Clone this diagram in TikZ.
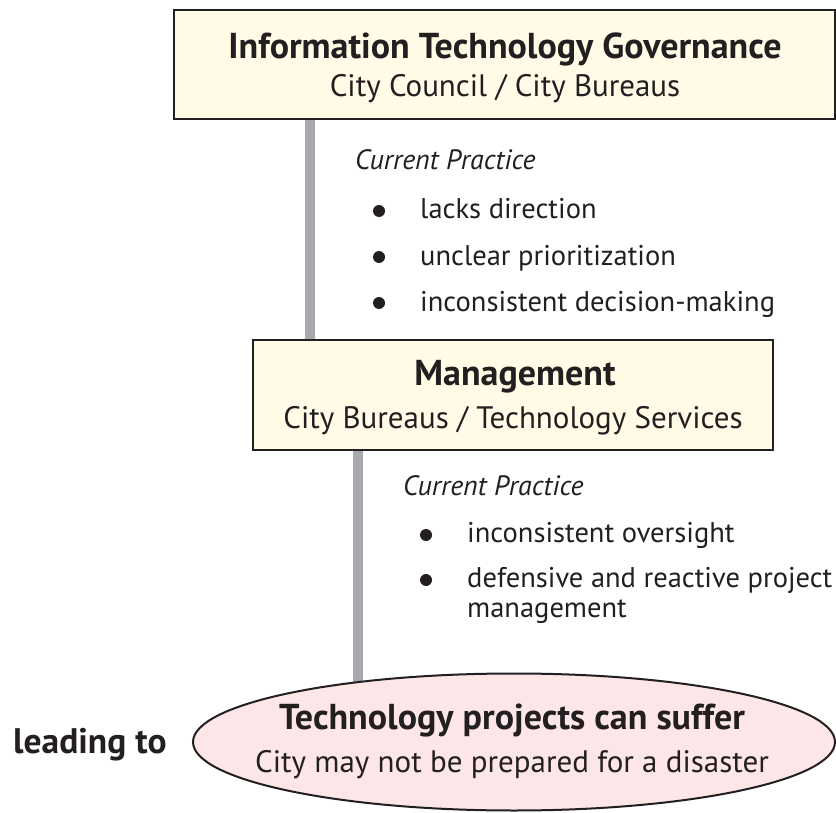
\documentclass[tikz,border=0pt]{standalone}
\usepackage{fontspec}
\setmainfont{PT Sans}
\usetikzlibrary{shapes.geometric,backgrounds,calc}
\definecolor{ink}{HTML}{231F20}
\definecolor{cream}{HTML}{FFFBE6}
\definecolor{blush}{HTML}{FDE6E8}
\definecolor{rail}{HTML}{A7A9AC}
\tikzset{
  box/.style={draw=ink, line width=2pt, fill=cream, rectangle, inner sep=0pt},
  oval/.style={draw=ink, line width=2pt, fill=blush, ellipse, inner sep=0pt},
  connector/.style={draw=rail, line width=10pt},
  headtxt/.style={anchor=base, inner sep=0pt, text=ink, font=\bfseries\fontsize{36}{42}\selectfont},
  subtxt/.style={anchor=base, inner sep=0pt, text=ink, font=\fontsize{31}{36}\selectfont},
  practice/.style={anchor=base west, inner sep=0pt, text=ink, font=\itshape\fontsize{28}{33}\selectfont},
  item/.style={anchor=base west, inner sep=0pt, text=ink, font=\fontsize{28.5}{33}\selectfont},
  dot/.style={circle, fill=ink, inner sep=0pt, minimum size=12pt},
}
\begin{document}
\begin{tikzpicture}[x=1pt,y=-1pt]
\useasboundingbox (0,0) rectangle (836,813);
\clip (0,0) rectangle (836,813);
% boxes
\node[box, minimum width=661pt, minimum height=109pt] (gov) at (504.5,64.5) {};
\node[box, minimum width=520pt, minimum height=110pt] (mgmt) at (513,395) {};
\node[oval, minimum width=642pt, minimum height=137pt] (out) at (514,742) {};
% connectors
\coordinate (r1) at (310,0);
\coordinate (r2) at (358,0);
\begin{scope}[on background layer]
\draw[connector] (r1 |- gov.south) -- (r1 |- mgmt.north);
\draw[connector] (r2 |- mgmt.south) -- (r2 |- out.center);
\end{scope}
% top box text
\node[headtxt] (govt) at (505,59) {Information Technology Governance};
\node[subtxt] (govs) at (505,97) {City Council / City Bureaus};
% first practice list
\node[practice] (cp1) at (355,170) {Current Practice};
\node[dot] (b1) at (379,211) {};
\node[item] (i1) at (420,219) {lacks direction};
\node[dot] (b2) at (379,257) {};
\node[item] (i2) at (420,266) {unclear prioritization};
\node[dot] (b3) at (379,303) {};
\node[item] (i3) at (420,312) {inconsistent decision-making};
% management box text
\node[headtxt] (mgt) at (515,385) {Management};
\node[subtxt] (mgs) at (513,428) {City Bureaus / Technology Services};
% second practice list
\node[practice] (cp2) at (403,495) {Current Practice};
\node[dot] (b4) at (426,535) {};
\node[item] (i4) at (467,542) {inconsistent oversight};
\node[dot] (b5) at (426,580) {};
\node[item] (i5) at (467,587) {defensive and reactive project};
\node[item] (i6) at (467,617) {management};
% outcome
\node[headtxt] (outt) at (512,729) {Technology projects can suffer};
\node[subtxt] (outs) at (512,772) {City may not be prepared for a disaster};
\node[anchor=base west, inner sep=0pt, text=ink, font=\bfseries\fontsize{35.5}{41}\selectfont] (lead) at (13,753) {leading to};
\end{tikzpicture}
\end{document}
